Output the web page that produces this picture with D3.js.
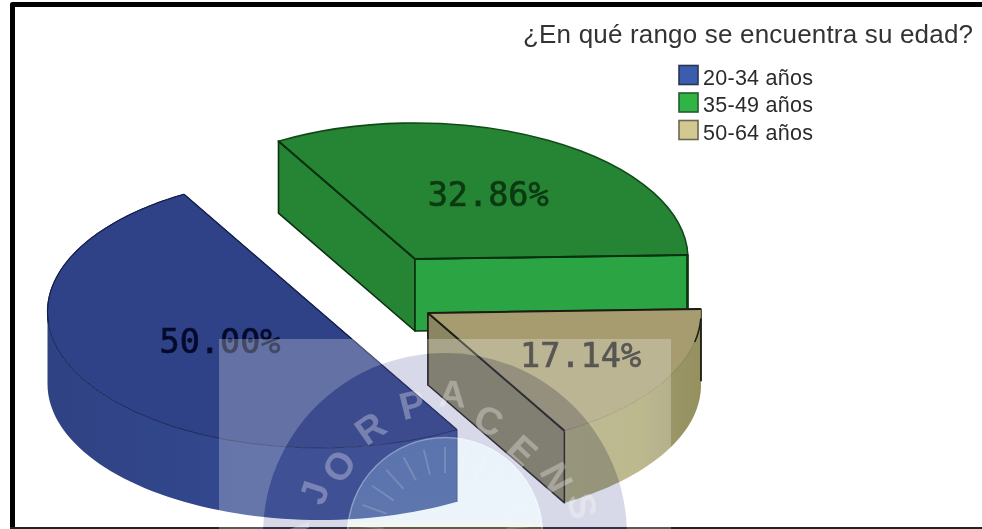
<!DOCTYPE html>
<html><head><meta charset="utf-8">
<script src="https://cdn.jsdelivr.net/npm/d3@7"></script>
<style>
html,body{margin:0;padding:0;background:#fff;overflow:hidden}
svg{display:block;filter:blur(.45px)}
</style></head><body><div id="chart"></div>
<script>
// ---- data ----
const chartTitle = "¿En qué rango se encuentra su edad?";
const categories = ["20-34 años", "35-49 años", "50-64 años"];
const percentages = [50.00, 32.86, 17.14];
const sealLetters = ["A","J","O","R","P","A","C","E","N","S","I"];
const sealLetterAngles = [-90,-72,-57,-35,-14,3,21,42.5,62.6,78,94];
const sealLetterRadii = [150,138,127,131,135,142,123,115,126,141,152];

// ---- styles and layout ----
const W = 982, H = 529;
const R = 273, Ry = 136, depth = 72;
const pieStartDeg = 150;
const sliceCenters = [[320.5,312],[415,259],[428,313]];
const labelFraction = [0.425,0.55,0.64];
const labelFill = ["#050a2c","#0b3a12","#1f1e1a"];
const topFill = ["#2f4287","#268534","#a69c70"];
const faceFill = ["#2f4287","#268534","#8b8662"];
const endFaceFill = ["#2f4287","#2ba544","#8b8662"];
const edgeStroke = ["#14204e","#0a3010","#1d1c12"];
const arcStroke = ["#1a2759","#0f4a18","#8d865f"];
const legendFill = ["#3a5db0","#2fb445","#d2c992"];
const legendStroke = ["#2c3550","#245a30","#6b684f"];
const seal = {x:445,y:535,rOut:182,rIn:98};
const veil = {x0:219,y0:339,x1:671,y1:529};

const rad = d => d*Math.PI/180;
const svg = d3.select("#chart").append("svg").attr("width",W).attr("height",H);
const defs = svg.append("defs");
function grad(id,stops){
  const g = defs.append("linearGradient").attr("id",id).attr("x1",0).attr("x2",1).attr("y1",0).attr("y2",0);
  stops.forEach(s=>g.append("stop").attr("offset",s[0]).attr("stop-color",s[1]));
}
grad("wall0",[[0,"#2f4283"],[.5,"#33488f"],[1,"#344a92"]]);
grad("wall1",[[0,"#2ba544"],[1,"#2ba544"]]);
grad("wall2",[[0,"#a8a46e"],[.55,"#a6a26a"],[.78,"#9a9666"],[1,"#94905f"]]);
const dg = defs.append("linearGradient").attr("id","discFill").attr("x1",0).attr("x2",0).attr("y1",0).attr("y2",1);
dg.append("stop").attr("offset",0).attr("stop-color","#b8d6f0");
dg.append("stop").attr("offset",.42).attr("stop-color","#c0dcf0");
dg.append("stop").attr("offset",.48).attr("stop-color","#f0e8b0");
defs.append("clipPath").attr("id","veilClip").append("rect")
  .attr("x",veil.x0).attr("y",veil.y0).attr("width",veil.x1-veil.x0).attr("height",veil.y1-veil.y0);

// white frame with the thick screenshot border
svg.append("rect").attr("width",W).attr("height",H).attr("fill","#fff");
svg.append("path").attr("d",`M12.5,${H} V4.5 H${W}`).attr("fill","none").attr("stroke","#000").attr("stroke-width",5).attr("stroke-linejoin","round");
svg.append("line").attr("x1",10).attr("x2",W).attr("y1",528).attr("y2",528).attr("stroke","#222").attr("stroke-width",2);

// slices
const pie = d3.pie().sort(null).startAngle(rad(pieStartDeg)).endAngle(rad(pieStartDeg+360));
const arcs = pie(percentages);
const arcGen = d3.arc().innerRadius(0).outerRadius(R);
const line = d3.line();
const pt = (c,a,z) => [c[0]+R*Math.sin(a), c[1]-Ry*Math.cos(a)+z];
const sampled = (a0,a1) => d3.range(0,61).map(i=>a0+(a1-a0)*i/60);

const order = [0,1,2];
order.forEach(i=>{
  const a = arcs[i], c = sliceCenters[i];
  const g = svg.append("g");
  // radial cut faces
  [[a.startAngle,faceFill[i]],[a.endAngle,endFaceFill[i]]].forEach(([ang,fill])=>{
    g.append("path").attr("d",line([c,pt(c,ang,0),pt(c,ang,depth),[c[0],c[1]+depth]])+"Z")
      .attr("fill",fill).attr("stroke",i===0?"none":edgeStroke[i]).attr("stroke-width",1.6).attr("stroke-linejoin","round");
  });
  // outer wall, only its front part
  [[rad(85),rad(270)],[rad(445),rad(630)]].forEach(([lo,hi])=>{
    const s = Math.max(lo,a.startAngle), e = Math.min(hi,a.endAngle);
    if (e<=s) return;
    const ang = sampled(s,e);
    g.append("path")
      .attr("d",line(ang.map(t=>pt(c,t,0)).concat(ang.slice().reverse().map(t=>pt(c,t,depth))))+"Z")
      .attr("fill",`url(#wall${i})`);
    // end vertical edges
    if (i!==0){
      g.append("path").attr("d",line([pt(c,s,0),pt(c,s,depth)]))
        .attr("stroke",edgeStroke[i]).attr("stroke-width",1.6).attr("fill","none");
      g.append("path").attr("d",line([pt(c,e,0),pt(c,e,depth)]))
        .attr("stroke",edgeStroke[i]).attr("stroke-width",1.2).attr("fill","none");
    } else {
      g.append("path").attr("d",line([pt(c,s,0),pt(c,s,depth)]))
        .attr("stroke","#22305f").attr("stroke-width",1).attr("fill","none");
    }
  });
  // top face
  g.append("path").attr("d",arcGen(a))
    .attr("transform",`translate(${c[0]},${c[1]}) scale(1,${Ry/R})`)
    .attr("fill",topFill[i]).attr("stroke",arcStroke[i]).attr("stroke-width",i===1?1.6:1)
    .style("vector-effect","non-scaling-stroke");
  // radial edges on the top
  [a.startAngle,a.endAngle].forEach(ang=>{
    g.append("path").attr("d",line([c,pt(c,ang,0)])).attr("fill","none")
      .attr("stroke",edgeStroke[i]).attr("stroke-width",i===0?1.4:2);
  });
  if (i===2){ // short dark piece of the rim, upper right
    const ang = sampled(a.startAngle+rad(4),a.startAngle+rad(14));
    g.append("path").attr("d",line(ang.map(t=>pt(c,t,0)))).attr("fill","none").attr("stroke",edgeStroke[i]).attr("stroke-width",1.5);
  }
  if (i===0){ // the darker upper part of the blue rim
    const ang = sampled(rad(265),a.endAngle);
    g.append("path").attr("d",line(ang.map(t=>pt(c,t,0)))).attr("fill","none").attr("stroke","#14204e").attr("stroke-width",1.2);
  }
});

// value labels
const fmt = d3.format(".2f");
order.forEach(i=>{
  const a = arcs[i], c = sliceCenters[i], f = labelFraction[i];
  const mid = (a.startAngle+a.endAngle)/2;
  const p = [c[0]+f*R*Math.sin(mid), c[1]-f*Ry*Math.cos(mid)];
  svg.append("text").attr("x",p[0]).attr("y",p[1]+12)
    .attr("text-anchor","middle")
    .attr("font-family","'DejaVu Sans Mono'")
    .attr("font-size",33.5)
    .attr("fill",labelFill[i]).attr("stroke",labelFill[i]).attr("stroke-width",.7)
    .text(fmt(percentages[i])+"%");
});

// pale university seal laid over the picture
const wm = svg.append("g").attr("clip-path","url(#veilClip)");
const hole = d3.path();
hole.moveTo(seal.x+seal.rOut,seal.y);
hole.arc(seal.x,seal.y,seal.rOut,0,2*Math.PI);
wm.append("path").attr("fill","#fff").attr("fill-opacity",.25).attr("fill-rule","evenodd")
  .attr("d",`M${veil.x0},${veil.y0}H${veil.x1}V${veil.y1}H${veil.x0}Z`+hole.toString());
wm.append("path")
  .attr("transform",`translate(${seal.x},${seal.y})`)
  .attr("d",d3.arc().innerRadius(seal.rIn).outerRadius(seal.rOut).startAngle(0).endAngle(2*Math.PI)())
  .attr("fill","rgb(100,104,164)").attr("fill-opacity",.25);
wm.append("circle").attr("cx",seal.x).attr("cy",seal.y).attr("r",seal.rIn)
  .attr("fill","url(#discFill)").attr("fill-opacity",.3);
wm.append("circle").attr("cx",seal.x).attr("cy",seal.y).attr("r",seal.rIn-.5)
  .attr("fill","none").attr("stroke","#fff").attr("stroke-opacity",.3).attr("stroke-width",1.5);
d3.range(-84,85,14).forEach(d=>{
  const s = Math.sin(rad(d)), k = Math.cos(rad(d));
  wm.append("line")
    .attr("x1",seal.x+62*s).attr("y1",seal.y-62*k).attr("x2",seal.x+88*s).attr("y2",seal.y-88*k)
    .attr("stroke","#fff").attr("stroke-opacity",.16).attr("stroke-width",2);
});
sealLetters.forEach((ch,i)=>{
  const d = sealLetterAngles[i], r = sealLetterRadii[i];
  const x = seal.x+r*Math.sin(rad(d)), y = seal.y-r*Math.cos(rad(d));
  wm.append("text").attr("transform",`translate(${x},${y}) rotate(${d})`)
    .attr("text-anchor","middle").attr("dy","0.36em")
    .attr("font-family","'Liberation Sans'").attr("font-size",38).attr("font-weight","bold")
    .attr("fill","#fff").attr("fill-opacity",.3).text(ch);
});

// title
svg.append("text").attr("x",523).attr("y",43)
  .attr("font-family","'Liberation Sans'").attr("font-size",26)
  .attr("textLength",450).attr("lengthAdjust","spacing")
  .attr("fill","#333").text(chartTitle);

// legend
const legendY = d3.scalePoint().domain(categories).range([75,130]);
const legendColor = d3.scaleOrdinal().domain(categories).range(legendFill);
const legendEdge = d3.scaleOrdinal().domain(categories).range(legendStroke);
const lg = svg.append("g").selectAll("g").data(categories).join("g")
  .attr("transform",d=>`translate(0,${legendY(d)})`);
lg.append("rect").attr("x",679).attr("y",-9.5).attr("width",19).attr("height",19)
  .attr("fill",d=>legendColor(d)).attr("stroke",d=>legendEdge(d)).attr("stroke-width",1.6);
lg.append("text").attr("x",703).attr("y",9.5)
  .attr("font-family","'Liberation Sans'").attr("font-size",21.5)
  .attr("textLength",110).attr("lengthAdjust","spacing")
  .attr("fill","#2a2a2a").text(d=>d);
</script></body></html>
